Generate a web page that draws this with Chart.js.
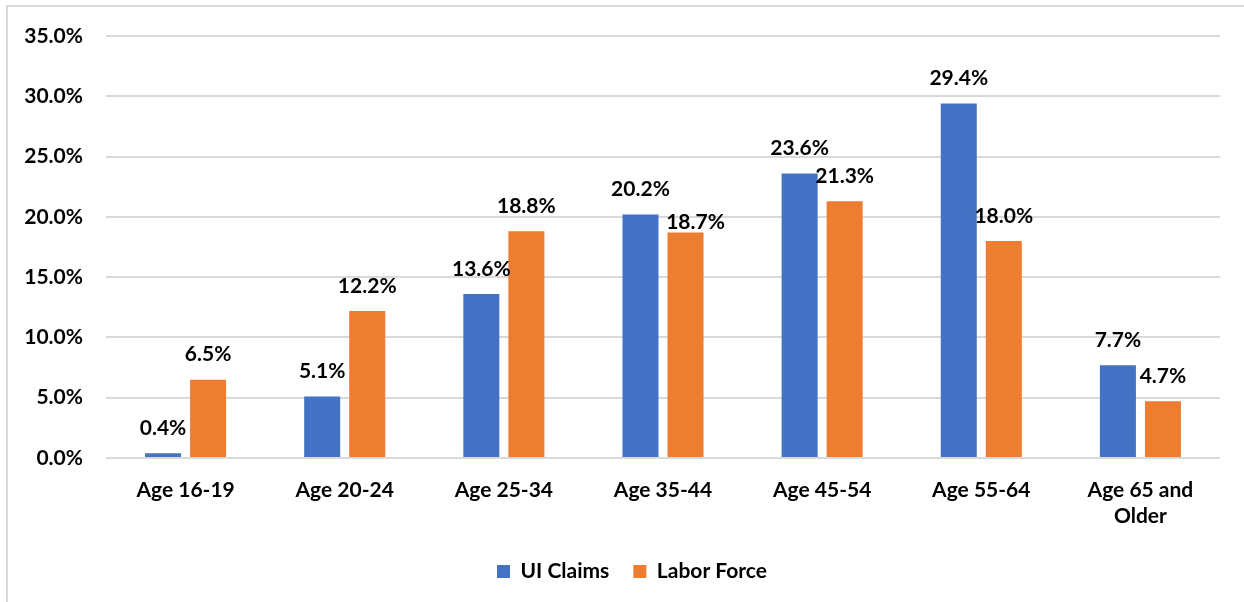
<!DOCTYPE html>
<html>
<head>
<meta charset="utf-8">
<script src="https://cdn.jsdelivr.net/npm/chart.js@4.4.1/dist/chart.umd.min.js"></script>
<style>
  html, body { margin: 0; padding: 0; background: #fff; }
  #wrap { position: relative; width: 1244px; height: 602px; overflow: hidden; }
  #frame { position: absolute; left: 6px; top: 5px; width: 1300px; height: 700px;
           border-left: 2px solid #d9d9d9; border-top: 2px solid #d9d9d9; }
  canvas { position: absolute; left: 0; top: 0; }
</style>
</head>
<body>
<div id="wrap">
  <div id="frame"></div>
  <canvas id="grafico" width="1244" height="602"></canvas>
</div>
<script>
// categorias (faixas etárias)
const categorias = ["Age 16-19", "Age 20-24", "Age 25-34", "Age 35-44", "Age 45-54", "Age 55-64", ["Age 65 and", "Older"]];
// percentuais por série
const uiClaims = [0.4, 5.1, 13.6, 20.2, 23.6, 29.4, 7.7];
const laborForce = [6.5, 12.2, 18.8, 18.7, 21.3, 18.0, 4.7];
// eixo Y
const yMin = 0, yMax = 35, yStep = 5;

const fonte = { family: "Lato, 'DejaVu Sans', sans-serif", size: 21, weight: "bold" };

// rótulos de dados desenhados acima das barras
const rotulos = {
  id: "rotulos",
  afterDatasetsDraw(chart) {
    const ctx = chart.ctx;
    ctx.save();
    ctx.font = "bold 21px Lato, 'DejaVu Sans', sans-serif";
    ctx.fillStyle = "#000";
    ctx.textAlign = "center";
    ctx.textBaseline = "middle";
    chart.data.datasets.forEach((ds, i) => {
      chart.getDatasetMeta(i).data.forEach((bar, j) => {
        let dx = 0, dy = -25;
        if (i === 1 && j === 3) { dx = 10; dy = -10; } // Excel empurrou esse pra direita
        ctx.fillText(ds.data[j].toFixed(1) + "%", bar.x + dx, bar.y + dy);
      });
    });
    ctx.restore();
  }
};

// legenda um pouco deslocada pra direita, como no original
const moveLegenda = {
  id: "moveLegenda",
  afterLayout(chart) {
    chart.legend.left += 22;
    chart.legend.right += 22;
  }
};

const config = {
  type: "bar",
  data: {
    labels: categorias,
    datasets: [
      { label: "UI Claims", data: uiClaims, backgroundColor: "#4472C4" },
      { label: "Labor Force", data: laborForce, backgroundColor: "#ED7D31" }
    ]
  },
  options: {
    responsive: false,
    animation: false,
    categoryPercentage: 0.566,
    barPercentage: 0.8,
    layout: { padding: { top: 36, left: 0, right: 24, bottom: 10 } },
    plugins: {
      tooltip: { enabled: false },
      legend: {
        position: "bottom",
        labels: {
          font: fonte,
          color: "#000",
          boxWidth: 13,
          boxHeight: 13,
          padding: 24
        }
      }
    },
    scales: {
      x: {
        grid: { display: false },
        border: { display: false },
        ticks: { font: fonte, color: "#000", padding: 12, maxRotation: 0, autoSkip: false },
        afterFit(s) { s.height = 79; }
      },
      y: {
        min: yMin,
        max: yMax,
        border: { display: false },
        grid: { color: "#d9d9d9", lineWidth: 2, drawTicks: false },
        ticks: {
          stepSize: yStep,
          font: fonte,
          color: "#000",
          padding: 23,
          callback: v => v.toFixed(1) + "%"
        },
        afterFit(s) { s.width = 106; }
      }
    }
  },
  plugins: [rotulos, moveLegenda]
};

var meuGrafico = new Chart(document.getElementById("grafico"), config);
</script>
</body>
</html>
